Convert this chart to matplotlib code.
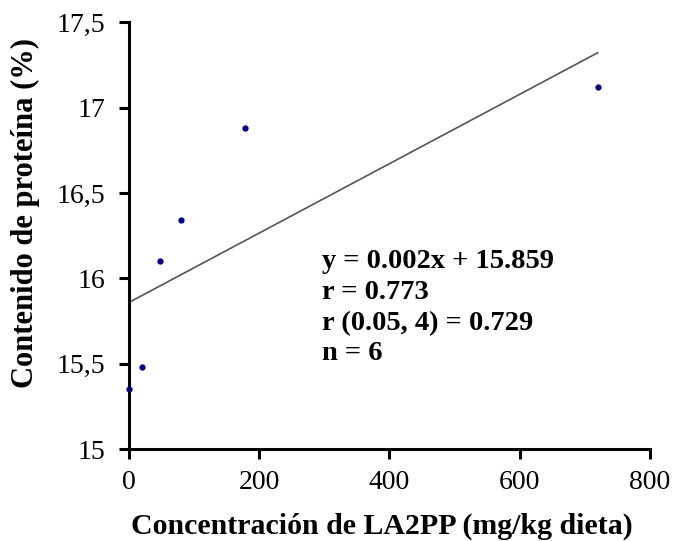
import matplotlib.pyplot as plt
import numpy as np

# datos
conc = np.array([0, 20, 47, 80, 178, 720])
proteina = np.array([15.35, 15.48, 16.10, 16.34, 16.88, 17.12])

# linea de tendencia
pendiente = 0.00203
intercepto = 15.859
x_linea = np.array([0, 720])

yticks = [15, 15.5, 16, 16.5, 17, 17.5]
ytick_labels = ['15', '15,5', '16', '16,5', '17', '17,5']
xticks = [0, 200, 400, 600, 800]

plt.rcParams['font.family'] = 'Liberation Serif'

fig = plt.figure(figsize=(6.76, 5.41), dpi=100)
ax = fig.add_axes([0.191, 0.170, 0.770, 0.789])

ax.plot(x_linea, intercepto + pendiente * x_linea, color='#555555', lw=1.2)
ax.plot(conc, proteina, 'o', color='#000080', ms=3.5, clip_on=False, zorder=5)

ax.set_xlim(0, 800)
ax.set_ylim(15, 17.5)
ax.set_xticks(xticks)
ax.set_yticks(yticks)
ax.set_yticklabels(ytick_labels)
ax.tick_params(labelsize=20, width=2.2, length=7, direction='out', pad=10)
ax.tick_params(axis='x', pad=8)

for s in ['top', 'right']:
    ax.spines[s].set_visible(False)
for s in ['left', 'bottom']:
    ax.spines[s].set_linewidth(2.2)

ax.set_xlabel('Concentración de LA2PP (mg/kg dieta)', fontsize=21.5, fontweight='bold')
ax.set_ylabel('Contenido de proteína (%)', fontsize=22, fontweight='bold')
ax.xaxis.set_label_coords(0.486, -0.148)
ax.yaxis.set_label_coords(-0.171, 0.553)

txt = 'y = 0.002x + 15.859\nr = 0.773\nr (0.05, 4) = 0.729\nn = 6'
ax.text(296, 16.17, txt, fontsize=20.5, fontweight='bold', va='top', linespacing=1.3)

fig.savefig('out.png', dpi=100)
